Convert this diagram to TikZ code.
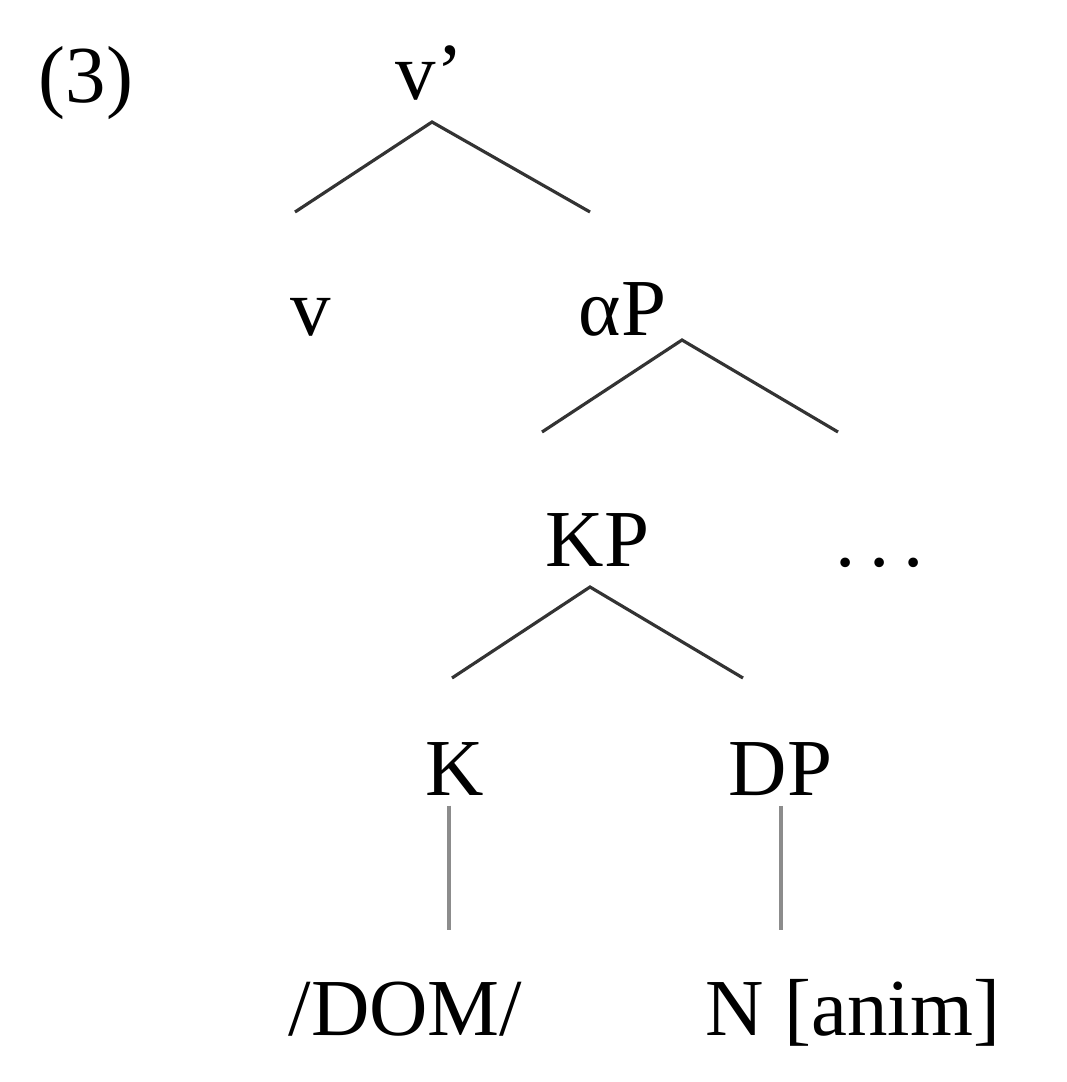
\documentclass[tikz,border=0pt]{standalone}
\usepackage{fontspec}
\setmainfont{Liberation Serif}
\usetikzlibrary{positioning}

\begin{document}
\begin{tikzpicture}[
    x=0.01cm, y=-0.01cm,
    % Node styles
    label/.style={anchor=base west, inner sep=0pt, font=\fontsize{23}{27}\selectfont},
    % Branch styles
    branch/.style={draw=black!80, line width=0.9pt},
    stem/.style={draw=black!45, line width=1.2pt}
]
\useasboundingbox (0,0) rectangle (1066,1082);

% Example number
\node[label] (num) at (38,103) {(3)};

% Top level
\node[label] (vbar) at (395,100) {v’};
\coordinate (vbar-top) at (432,122);
\coordinate (vbar-l) at (295,212);
\coordinate (vbar-r) at (590,212);

% Second level
\node[label] (v) at (290,335) {v};
\node[label] (aP) at (578,335) {αP};
\coordinate (aP-top) at (682,340);
\coordinate (aP-l) at (542,432);
\coordinate (aP-r) at (838,432);

% Third level
\node[label] (KP) at (545,566) {KP};
\node[label] (dots) at (835,566) {.\,.\,.};
\coordinate (KP-top) at (590,587);
\coordinate (KP-l) at (452,678);
\coordinate (KP-r) at (743,678);

% Fourth level
\node[label] (K) at (425,795) {K};
\node[label] (DP) at (728,795) {DP};
\coordinate (K-foot) at (449,930);
\coordinate (DP-foot) at (781,930);

% Leaves
\node[label] (dom) at (288,1035) {/DOM/};
\node[label] (anim) at (705,1035) {N [anim]};

% Branches
\draw[branch] (vbar-l) -- (vbar-top) -- (vbar-r);
\draw[branch] (aP-l) -- (aP-top) -- (aP-r);
\draw[branch] (KP-l) -- (KP-top) -- (KP-r);

% Stems
\draw[stem] ([yshift=-0.1cm]K.south -| K-foot) -- (K-foot);
\draw[stem] ([yshift=-0.1cm]DP.south -| DP-foot) -- (DP-foot);

\end{tikzpicture}
\end{document}
